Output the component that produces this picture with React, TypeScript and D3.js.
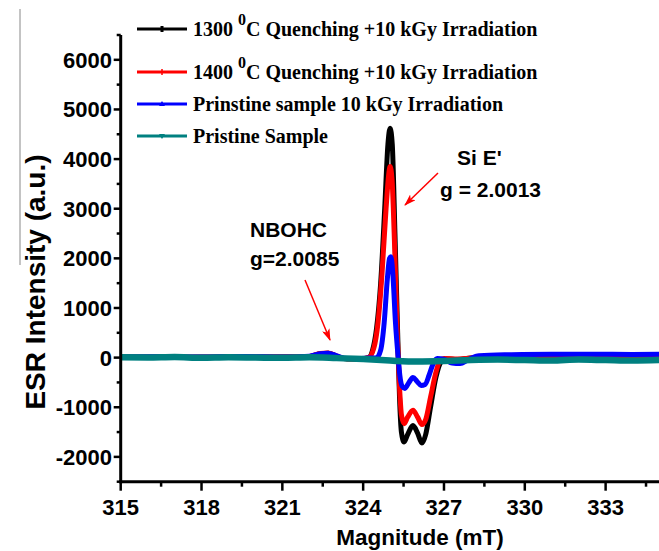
import React from "react";
import * as d3 from "d3";

// ---- data ----
const xTicks = [315, 318, 321, 324, 327, 330, 333];
const yTicks = [-2000, -1000, 0, 1000, 2000, 3000, 4000, 5000, 6000];

const seriesNames = [
  "1300 |0|C Quenching +10 kGy Irradiation",
  "1400 |0|C Quenching +10 kGy Irradiation",
  "Prinstine sample 10 kGy Irradiation",
  "Pristine Sample",
];
const seriesColors = ["#000000", "#ff0000", "#0000ff", "#008080"];

const blackX = [315, 316.5, 318, 319.5, 321, 322, 322.4, 322.7, 323.0, 323.4, 323.8, 324.2, 324.35, 324.5, 324.65, 324.8, 324.92, 325.0, 325.08, 325.18, 325.28, 325.35, 325.42, 325.52, 325.65, 325.85, 326.02, 326.18, 326.32, 326.5, 326.7, 326.9, 327.1, 327.5, 328, 329.5, 331, 332.5, 334, 335];
const blackY = [5, 10, 5, 15, 10, 20, 80, 90, 30, -30, -30, 0, 150, 600, 1500, 3000, 4300, 4620, 4300, 2500, 500, -800, -1500, -1700, -1550, -1370, -1520, -1720, -1550, -1000, -400, -80, -30, -40, -10, 20, 30, 25, 30, 30];

const redX = [315, 316.5, 318, 319.5, 321, 322, 322.4, 322.7, 323.0, 323.4, 323.8, 324.2, 324.4, 324.55, 324.7, 324.85, 324.95, 325.0, 325.07, 325.17, 325.27, 325.35, 325.42, 325.52, 325.65, 325.85, 326.02, 326.18, 326.32, 326.5, 326.7, 326.85, 327.0, 327.5, 328, 329.5, 331, 332.5, 334, 335];
const redY = [10, 5, 10, 10, 15, 25, 85, 95, 35, -25, -30, 0, 200, 700, 1700, 3000, 3700, 3850, 3600, 2200, 400, -600, -1150, -1330, -1200, -1060, -1200, -1350, -1250, -800, -300, -60, -20, -30, -10, 20, 25, 30, 25, 30];

const blueX = [315, 316.5, 318, 319.5, 321, 322, 322.4, 322.7, 323.0, 323.4, 323.8, 324.2, 324.5, 324.65, 324.78, 324.9, 324.98, 325.03, 325.1, 325.2, 325.3, 325.36, 325.45, 325.55, 325.7, 325.85, 326.0, 326.15, 326.3, 326.45, 326.6, 326.75, 327.0, 327.3, 327.6, 327.9, 328.3, 329.5, 331, 332.5, 334, 335];
const blueY = [10, 15, 10, 20, 10, 30, 80, 90, 40, -20, -20, -10, 0, 150, 700, 1600, 2000, 2030, 1700, 700, 0, -350, -580, -620, -500, -400, -480, -560, -540, -350, -120, -20, -30, -110, -120, -40, 40, 60, 70, 70, 65, 70];

const tealX = [315, 316, 317, 318, 319, 320, 321, 322, 323, 324, 325, 326, 327, 328, 329, 330, 331, 332, 333, 334, 335];
const tealY = [5, 0, 10, -5, 5, 0, -5, 5, -10, -30, -60, -80, -70, -50, -40, -50, -60, -40, -50, -60, -50];

const seriesX = [blackX, redX, blueX, tealX];
const seriesY = [blackY, redY, blueY, tealY];

export default function App() {
  const W = 659, H = 551;
  const x = d3.scaleLinear().domain([315, 335]).range([120.7, 659.5]);
  const y = d3.scaleLinear().domain([-2500, 6500]).range([481.7, 35]);
  const line = d3
    .line<[number, number]>()
    .x((d) => x(d[0]))
    .y((d) => y(d[1]))
    .curve(d3.curveMonotoneX);

  const xMinor = d3.range(315, 335.01, 1.5);
  const yMinor = d3.range(-2500, 6500.1, 500);
  const sans = "'Liberation Sans', Arial, sans-serif";
  const serif = "'Liberation Serif', 'Times New Roman', serif";

  const legendRows = [29, 72, 104, 136];

  return (
    <svg width={W} height={H} style={{ position: "absolute", left: 0, top: 0, background: "#fff" }}>
      <defs>
        <marker id="ah" viewBox="0 0 12 8" refX="11" refY="4" markerWidth="12" markerHeight="8" markerUnits="userSpaceOnUse" orient="auto">
          <path d="M0,0 L12,4 L0,8 L3,4 Z" fill="#ff0000" />
        </marker>
      </defs>
      {/* stray border line */}
      <line x1={20} x2={20} y1={9} y2={265} stroke="#888" strokeWidth={1} />

      {/* series */}
      {seriesX.map((xs, i) => {
        const pts = xs.map((v, j) => [v, seriesY[i][j]] as [number, number]);
        return (
          <path key={i} d={line(pts) || ""} fill="none" stroke={seriesColors[i]} strokeWidth={i === 3 ? 6.5 : 5} strokeLinejoin="round" />
        );
      })}

      {/* axes */}
      <line x1={x(315)} x2={x(315)} y1={y(6500)} y2={y(-2500) + 1.5} stroke="#000" strokeWidth={3} />
      <line x1={x(315) - 1.5} x2={659} y1={y(-2500)} y2={y(-2500)} stroke="#000" strokeWidth={3} />
      {yMinor.map((v) => {
        const major = yTicks.includes(v);
        return (
          <line key={"ym" + v} x1={x(315) - (major ? 7 : 4)} x2={x(315)} y1={y(v)} y2={y(v)} stroke="#000" strokeWidth={2.5} />
        );
      })}
      {xMinor.map((v) => {
        const major = xTicks.includes(Math.round(v * 10) / 10);
        return (
          <line key={"xm" + v} x1={x(v)} x2={x(v)} y1={y(-2500)} y2={y(-2500) + (major ? 9 : 5)} stroke="#000" strokeWidth={2.5} />
        );
      })}
      {yTicks.map((v) => (
        <text key={"yl" + v} x={112} y={y(v)} dy="0.36em" textAnchor="end" fontFamily={sans} fontWeight="bold" fontSize={22}>
          {v}
        </text>
      ))}
      {xTicks.map((v) => (
        <text key={"xl" + v} x={x(v)} y={515} textAnchor="middle" fontFamily={sans} fontWeight="bold" fontSize={22}>
          {v}
        </text>
      ))}
      <text x={420} y={545} textAnchor="middle" fontFamily={sans} fontWeight="bold" fontSize={22.5}>
        Magnitude (mT)
      </text>
      <text transform="translate(45,282) rotate(-90)" textAnchor="middle" fontFamily={sans} fontWeight="bold" fontSize={28}>
        ESR Intensity (a.u.)
      </text>

      {/* legend */}
      {seriesNames.map((name, i) => {
        const ly = legendRows[i];
        const parts = name.split("|");
        const c = seriesColors[i];
        const mx = 162;
        let marker: React.ReactNode = null;
        if (i === 0) marker = <rect x={mx - 1.5} y={ly - 3} width={3} height={6} fill={c} />;
        if (i === 1) marker = <path d={`M${mx - 3},${ly} h6 M${mx},${ly - 3} v6`} stroke={c} strokeWidth={1.5} />;
        if (i === 2) marker = <path d={`M${mx - 3},${ly + 2} L${mx + 3},${ly + 2} L${mx},${ly - 3} Z`} fill={c} />;
        if (i === 3) marker = <path d={`M${mx - 3},${ly - 2} L${mx + 3},${ly - 2} L${mx},${ly + 3} Z`} fill={c} />;
        return (
          <g key={"lg" + i}>
            <line x1={137} x2={187} y1={ly} y2={ly} stroke={c} strokeWidth={3} />
            {marker}
            <text x={193} y={ly + 7} fontFamily={serif} fontWeight="bold" fontSize={20}>
              {parts.length === 3 ? (
                <>
                  <tspan>{parts[0]}</tspan>
                  <tspan dy={-11} fontSize={16}>{parts[1]}</tspan>
                  <tspan dy={11}>{parts[2]}</tspan>
                </>
              ) : (
                name
              )}
            </text>
          </g>
        );
      })}

      {/* annotations */}
      <text x={250} y={237} fontFamily={sans} fontWeight="bold" fontSize={21}>NBOHC</text>
      <text x={250} y={266} fontFamily={sans} fontWeight="bold" fontSize={21}>g=2.0085</text>
      <line x1={305} y1={280} x2={330} y2={340} stroke="#ff0000" strokeWidth={1.5} markerEnd="url(#ah)" />
      <text x={457} y={165} fontFamily={sans} fontWeight="bold" fontSize={21}>Si E'</text>
      <text x={440} y={197} fontFamily={sans} fontWeight="bold" fontSize={21}>g = 2.0013</text>
      <line x1={438} y1={173} x2={405} y2={205} stroke="#ff0000" strokeWidth={1.5} markerEnd="url(#ah)" />
    </svg>
  );
}
